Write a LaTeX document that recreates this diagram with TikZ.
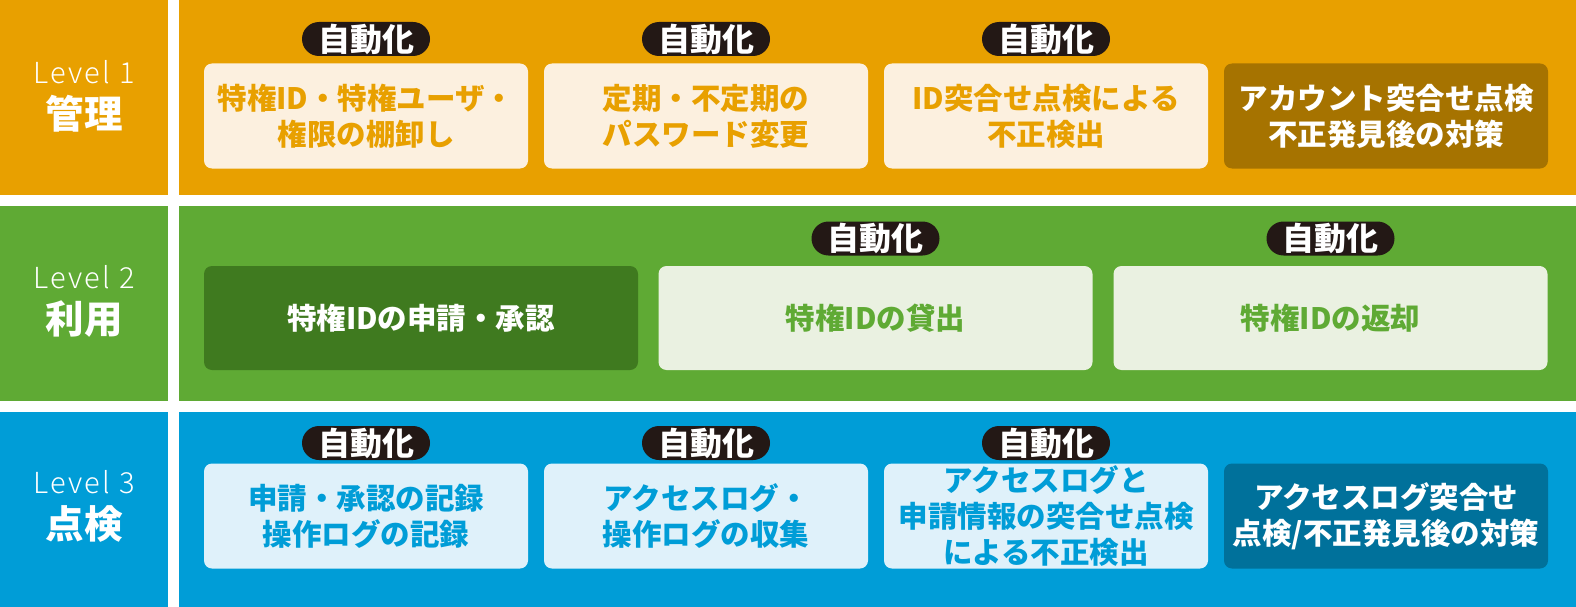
\documentclass[tikz,border=0pt]{standalone}
\usepackage{fontspec}
\setmainfont{Noto Sans CJK JP}
\newfontfamily\lightfont{Noto Sans CJK JP Light}[LetterSpace=8]
\definecolor{orgbg}{HTML}{E8A000}
\definecolor{orgdark}{HTML}{A67300}
\definecolor{orglight}{HTML}{FCF0DF}
\definecolor{grnbg}{HTML}{5FAA34}
\definecolor{grndark}{HTML}{3F7A1F}
\definecolor{grnlight}{HTML}{EAF1E1}
\definecolor{blubg}{HTML}{009DD7}
\definecolor{bludark}{HTML}{00719B}
\definecolor{blulight}{HTML}{DFF1FA}
\definecolor{badgecol}{HTML}{231815}
\tikzset{
  card/.style={draw=none, rounded corners=8pt, inner sep=0pt, align=center,
    font=\bfseries\fontsize{29.5}{36}\selectfont},
  cardA/.style={card, minimum width=324pt, minimum height=105pt},
  cardB/.style={card, minimum width=434pt, minimum height=104pt},
  badge/.style={draw=none, fill=badgecol, rounded corners=17pt, minimum width=128pt,
    minimum height=34pt, inner sep=0pt, text=white, font=\bfseries\fontsize{32}{32}\selectfont},
  lvl/.style={text=white, inner sep=0pt, font=\lightfont\fontsize{29}{29}\selectfont},
  lvlname/.style={text=white, inner sep=0pt, font=\bfseries\fontsize{38.5}{38.5}\selectfont}
}
\begin{document}
\begin{tikzpicture}[x=1pt,y=-1pt]
\useasboundingbox (0,0) rectangle (1576,607);
% bands
\fill[orgbg] (0,0) rectangle (168,195);
\fill[orgbg] (179,0) rectangle (1576,195);
\fill[grnbg] (0,206) rectangle (168,401);
\fill[grnbg] (179,206) rectangle (1576,401);
\fill[blubg] (0,412) rectangle (168,607);
\fill[blubg] (179,412) rectangle (1576,607);
% level labels
\node[lvl] (l1) at (84,72) {Level 1};
\node[lvlname] (n1) at (84,114) {管理};
\node[lvl] (l2) at (84,277) {Level 2};
\node[lvlname] (n2) at (84,319) {利用};
\node[lvl] (l3) at (84,482) {Level 3};
\node[lvlname] (n3) at (84,524) {点検};
% row 1
\node[cardA, fill=orglight, text=orgbg] (a1) at (366,116) {特権ID・特権ユーザ・\\権限の棚卸し};
\node[cardA, fill=orglight, text=orgbg] (a2) at (706,116) {定期・不定期の\\パスワード変更};
\node[cardA, fill=orglight, text=orgbg] (a3) at (1046,116) {ID突合せ点検による\\不正検出};
\node[cardA, fill=orgdark, text=white] (a4) at (1386,116) {アカウント突合せ点検\\不正発見後の対策};
\node[badge] (ba1) at (366,39) {自動化};
\node[badge] (ba2) at (706,39) {自動化};
\node[badge] (ba3) at (1046,39) {自動化};
% row 2
\node[cardB, fill=grndark, text=white] (b1) at (421,318) {特権IDの申請・承認};
\node[cardB, fill=grnlight, text=grnbg] (b2) at (875.5,318) {特権IDの貸出};
\node[cardB, fill=grnlight, text=grnbg] (b3) at (1330.5,318) {特権IDの返却};
\node[badge] (bb2) at (875.5,238.5) {自動化};
\node[badge] (bb3) at (1330.5,238.5) {自動化};
% row 3
\node[cardA, fill=blulight, text=blubg] (c1) at (366,516) {申請・承認の記録\\操作ログの記録};
\node[cardA, fill=blulight, text=blubg] (c2) at (706,516) {アクセスログ・\\操作ログの収集};
\node[cardA, fill=blulight, text=blubg] (c3) at (1046,516) {アクセスログと\\申請情報の突合せ点検\\による不正検出};
\node[cardA, fill=bludark, text=white] (c4) at (1386,516) {アクセスログ突合せ\\点検/不正発見後の対策};
\node[badge] (bc1) at (366,443) {自動化};
\node[badge] (bc2) at (706,443) {自動化};
\node[badge] (bc3) at (1046,443) {自動化};
\end{tikzpicture}
\end{document}
